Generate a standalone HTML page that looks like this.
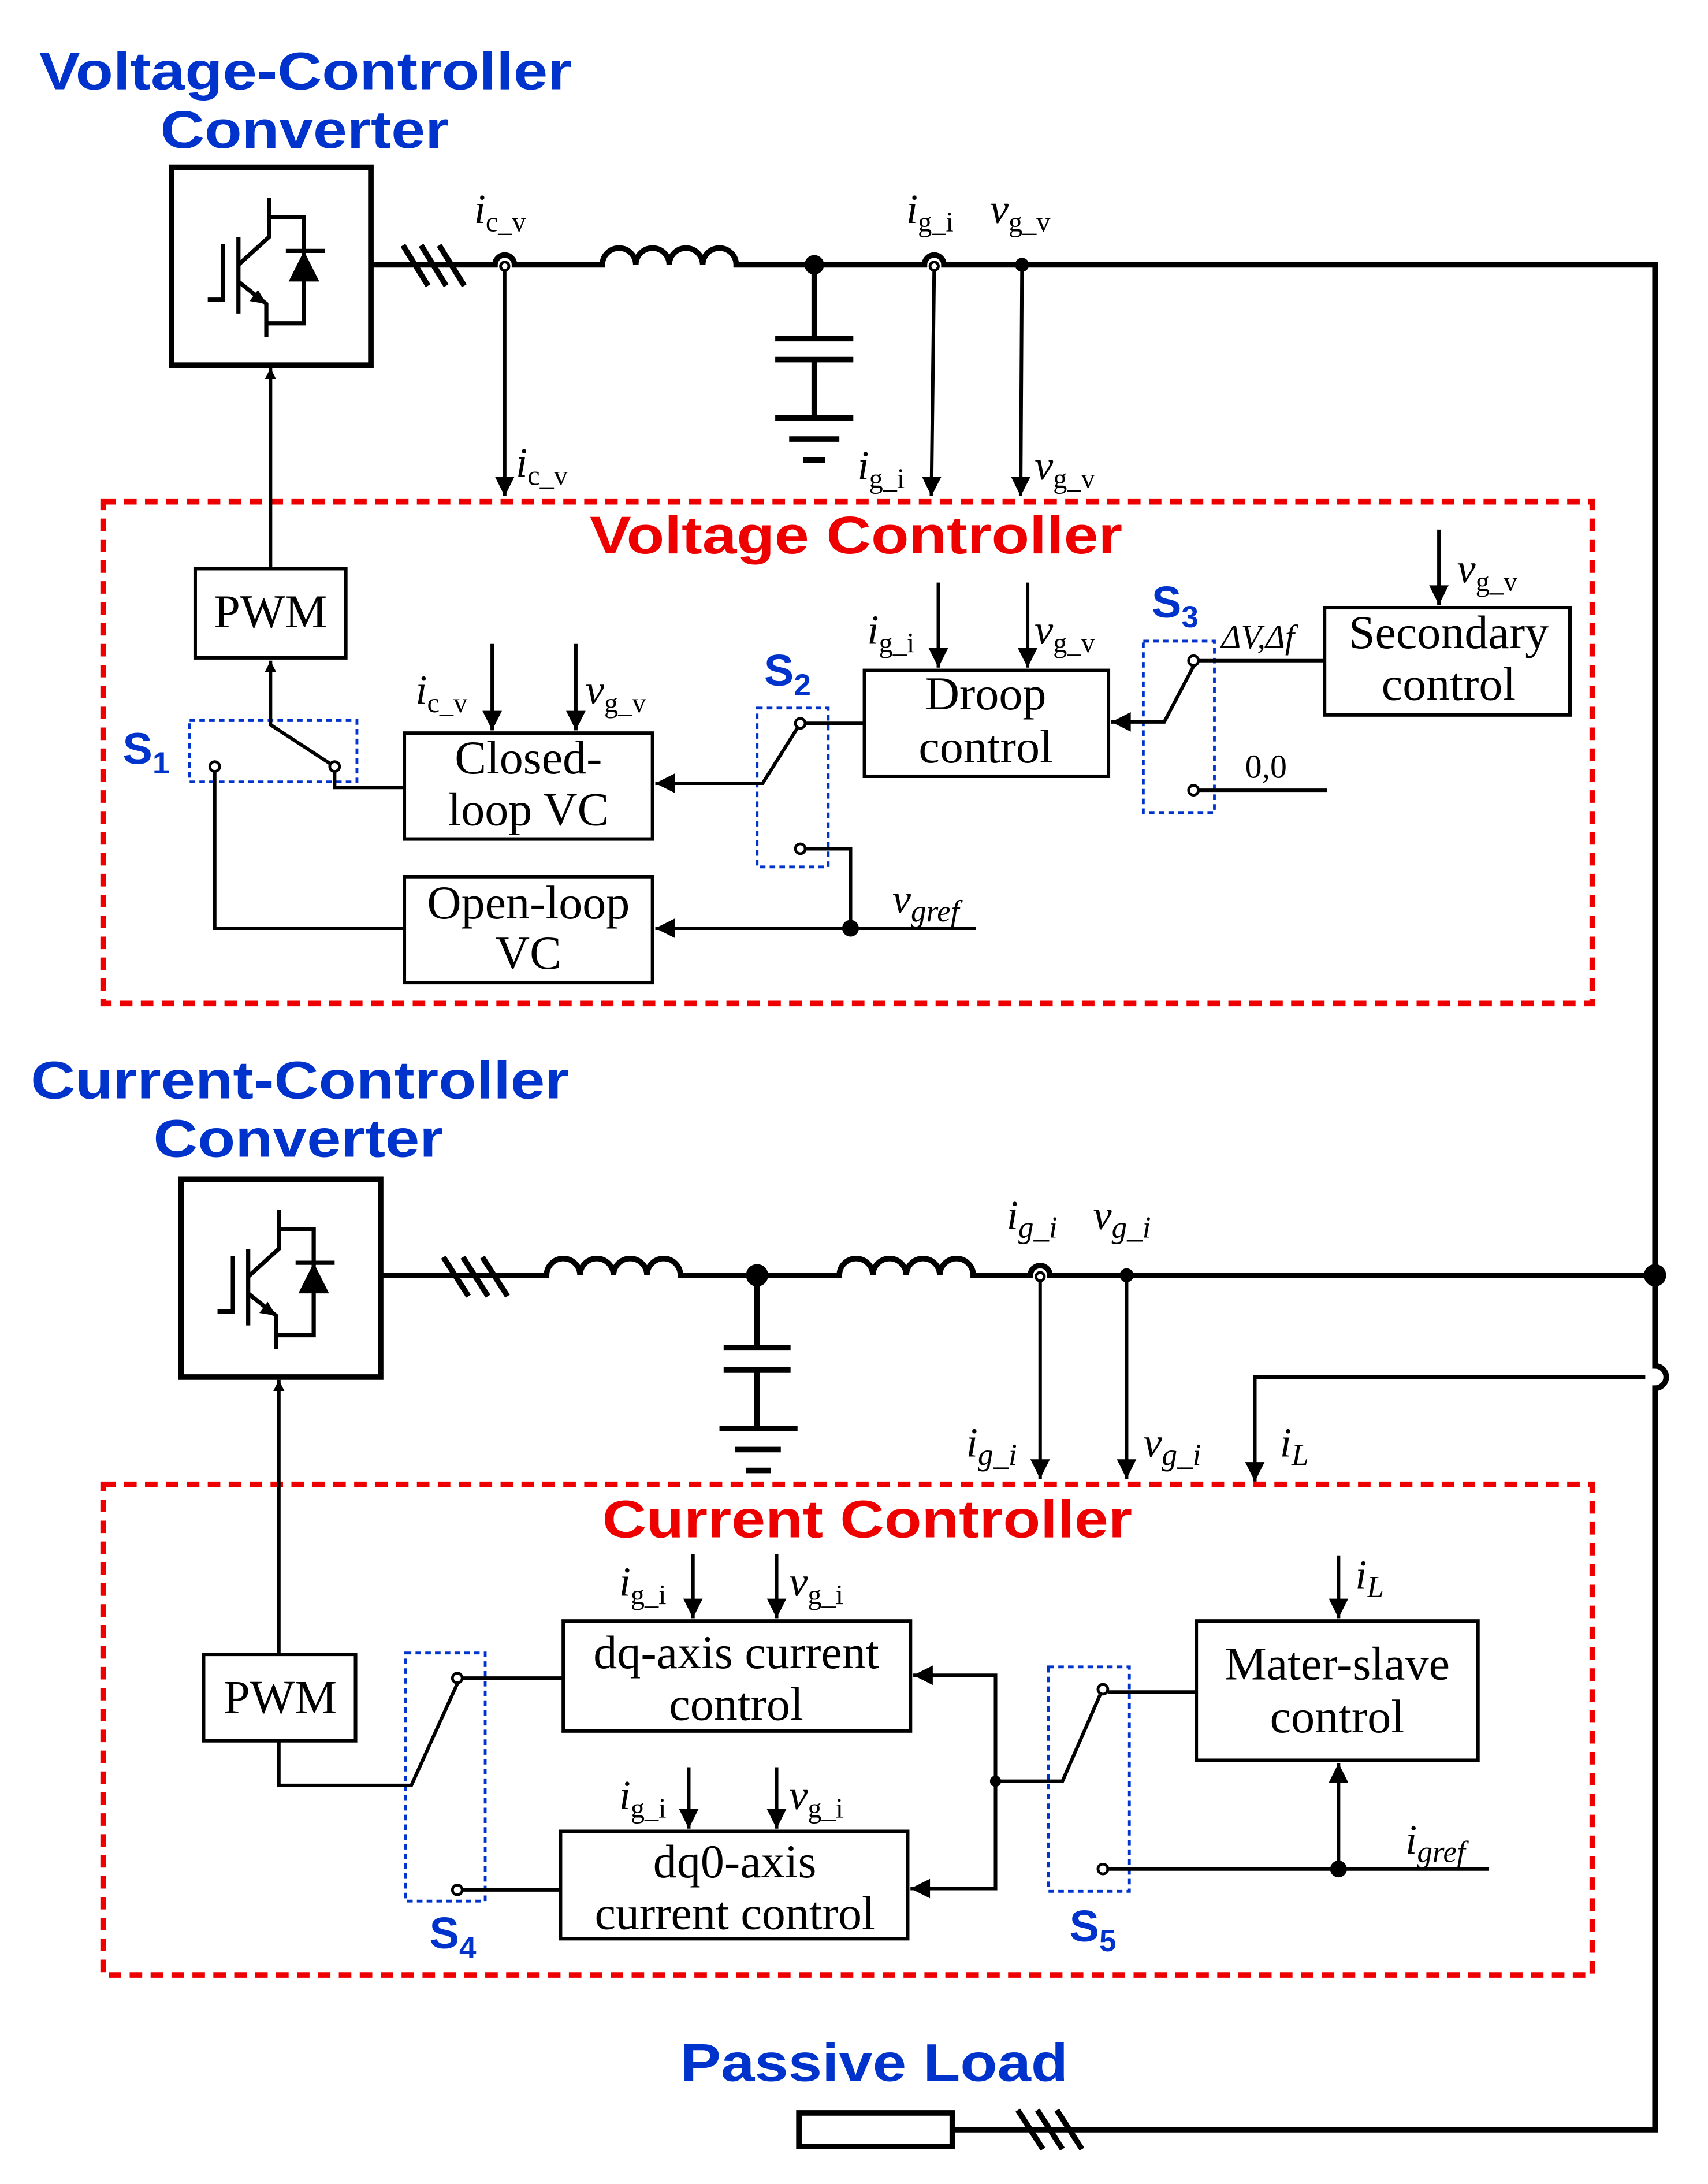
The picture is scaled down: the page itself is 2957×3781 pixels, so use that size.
<!DOCTYPE html>
<html><head><meta charset="utf-8"><style>
html,body{margin:0;padding:0;background:#fff}
svg{display:block}
.t{font-family:"Liberation Serif",serif;font-size:34px;fill:#000}
.l{font-family:"Liberation Serif",serif;font-size:30px;fill:#000;font-style:italic}
.s{font-size:20px;font-style:normal}
.si{font-size:22px;font-style:italic}
.h{font-family:"Liberation Sans",sans-serif;font-weight:bold;font-size:38px}
.sw{font-family:"Liberation Sans",sans-serif;font-weight:bold;font-size:32px;fill:#0033cc}
</style></head><body>
<svg width="2957" height="3781" viewBox="0 0 1225 1567" preserveAspectRatio="none" xmlns="http://www.w3.org/2000/svg">
<defs>
<marker id="a" viewBox="0 0 10 10" refX="10" refY="5" markerWidth="9" markerHeight="8" markerUnits="userSpaceOnUse" orient="auto"><path d="M0,0 L10,5 L0,10z" fill="#000"/></marker>
<marker id="b" viewBox="0 0 10 10" refX="10" refY="5" markerWidth="16" markerHeight="14" markerUnits="userSpaceOnUse" orient="auto"><path d="M0,0 L10,5 L0,10z" fill="#000"/></marker>
<g id="conv">
<rect x="0" y="0" width="143" height="142" fill="none" stroke="#000" stroke-width="4"/>
<g fill="none" stroke="#000" stroke-width="3">
<path d="M26,95 H37 V55"/>
<path d="M48,50 V105"/>
<path d="M70,22 V50 L48,70"/>
<path d="M48,82 L68,98 V122"/>
<path d="M70,36 H95 V112 H68"/>
<path d="M82,60 H110"/>
</g>
<path d="M95,60 L84,82 H106z" fill="#000"/>
<path d="M68,98 L56,96 L62,88z" fill="#000"/>
</g>
</defs>
<rect width="1225" height="1567" fill="#fff"/>

<text class="h" x="28" y="64" fill="#0033cc" textLength="382" lengthAdjust="spacingAndGlyphs">Voltage-Controller</text>
<text class="h" x="115" y="106" fill="#0033cc" textLength="207" lengthAdjust="spacingAndGlyphs">Converter</text>
<text class="h" x="22" y="788" fill="#0033cc" textLength="386" lengthAdjust="spacingAndGlyphs">Current-Controller</text>
<text class="h" x="110" y="830" fill="#0033cc" textLength="208" lengthAdjust="spacingAndGlyphs">Converter</text>
<text class="h" x="488" y="1493" fill="#0033cc" textLength="278" lengthAdjust="spacingAndGlyphs">Passive Load</text>
<text class="h" x="423" y="397" fill="#ee0000" textLength="382" lengthAdjust="spacingAndGlyphs">Voltage Controller</text>
<text class="h" x="432" y="1103" fill="#ee0000" textLength="380" lengthAdjust="spacingAndGlyphs">Current Controller</text>

<use href="#conv" x="123" y="120"/>
<use href="#conv" x="130" y="846"/>

<g fill="none" stroke="#000" stroke-width="4">
<path d="M266,190 H355 A7,7 0 0 1 369,190 H432 a12,12 0 0 1 24,0 a12,12 0 0 1 24,0 a12,12 0 0 1 24,0 a12,12 0 0 1 24,0 H663 A7,7 0 0 1 677,190 H1187 V980 A8,8 0 0 1 1187,996 V1528 H683"/>
<path d="M584,190 V243 M556,243 H612 M556,258 H612 M584,258 V300 M556,300 H612 M566,315 H602 M576,330 H592"/>
<path d="M289,176 L307,205 M302,176 L320,205 M315,176 L333,205"/>
<path d="M273,915 H392 a12,12 0 0 1 24,0 a12,12 0 0 1 24,0 a12,12 0 0 1 24,0 a12,12 0 0 1 24,0 H602 a12,12 0 0 1 24,0 a12,12 0 0 1 24,0 a12,12 0 0 1 24,0 a12,12 0 0 1 24,0 H739 A7,7 0 0 1 753,915 H1187"/>
<path d="M543,915 V967 M519,967 H567 M519,983 H567 M543,983 V1025 M516,1025 H572 M527,1040 H560 M535,1055 H553"/>
<path d="M318,902 L336,930 M332,902 L350,930 M346,902 L364,930"/>
<rect x="573" y="1516" width="110" height="24"/>
<path d="M730,1514 L748,1542 M744,1514 L762,1542 M758,1514 L776,1542"/>
</g>
<g fill="#000">
<circle cx="584" cy="190" r="7"/><circle cx="733" cy="190" r="5"/>
<circle cx="543" cy="915" r="8"/><circle cx="808" cy="915" r="5"/><circle cx="1187" cy="915" r="8"/>
</g>
<g fill="#fff" stroke="#000" stroke-width="2">
<circle cx="362" cy="191" r="3"/><circle cx="670" cy="191" r="3"/><circle cx="746" cy="916" r="3"/>
</g>

<g fill="none" stroke="#000" stroke-width="2.5">
<path d="M362,193 V356" marker-end="url(#b)"/>
<path d="M670,193 L668,356" marker-end="url(#b)"/>
<path d="M733,190 L732,356" marker-end="url(#b)"/>
<path d="M746,918 V1061" marker-end="url(#b)"/>
<path d="M808,915 V1061" marker-end="url(#b)"/>
<path d="M1180,988 H900 V1063" marker-end="url(#b)"/>
</g>

<rect x="74" y="360" width="1068" height="360" fill="none" stroke="#ee0000" stroke-width="4" stroke-dasharray="9,6"/>
<rect x="74" y="1065" width="1068" height="352" fill="none" stroke="#ee0000" stroke-width="4" stroke-dasharray="9,6"/>
<g fill="none" stroke="#0033cc" stroke-width="2" stroke-dasharray="4,3">
<rect x="136" y="517" width="120" height="44"/>
<rect x="543" y="508" width="51" height="114"/>
<rect x="820" y="460" width="51" height="123"/>
<rect x="291" y="1186" width="57" height="178"/>
<rect x="752" y="1196" width="58" height="161"/>
</g>

<g fill="#fff" stroke="#000" stroke-width="2.5">
<rect x="140" y="408" width="108" height="64"/>
<rect x="290" y="526" width="178" height="76"/>
<rect x="290" y="629" width="178" height="76"/>
<rect x="620" y="481" width="175" height="76"/>
<rect x="950" y="436" width="176" height="77"/>
<rect x="146" y="1187" width="109" height="62"/>
<rect x="404" y="1163" width="249" height="79"/>
<rect x="402" y="1314" width="249" height="77"/>
<rect x="858" y="1163" width="202" height="100"/>
</g>
<g class="t" text-anchor="middle">
<text x="194" y="450">PWM</text>
<text x="379" y="555">Closed-</text><text x="379" y="592">loop VC</text>
<text x="379" y="659">Open-loop</text><text x="379" y="695">VC</text>
<text x="707" y="509">Droop</text><text x="707" y="547">control</text>
<text x="1039" y="465">Secondary</text><text x="1039" y="502">control</text>
<text x="201" y="1229">PWM</text>
<text x="528" y="1197">dq-axis current</text><text x="528" y="1234">control</text>
<text x="527" y="1347">dq0-axis</text><text x="527" y="1384">current control</text>
<text x="959" y="1205">Mater-slave</text><text x="959" y="1243">control</text>
</g>

<g fill="none" stroke="#000" stroke-width="2.5">
<path d="M194,408 V264" marker-end="url(#a)"/>
<path d="M240,550 L194,520 V474" marker-end="url(#a)"/>
<path d="M240,553 V565 H290"/>
<path d="M154,553 V666 H290"/>
<path d="M574,519 L547,562 H470" marker-end="url(#b)"/>
<path d="M578,519 H620"/>
<path d="M578,609 H610 V666"/>
<path d="M700,666 H470" marker-end="url(#b)"/>
<path d="M353,462 V524" marker-end="url(#b)"/>
<path d="M413,462 V524" marker-end="url(#b)"/>
<path d="M673,418 V479" marker-end="url(#b)"/>
<path d="M737,418 V479" marker-end="url(#b)"/>
<path d="M1032,380 V434" marker-end="url(#b)"/>
<path d="M856,478 L835,518 H797" marker-end="url(#b)"/>
<path d="M860,474 H950"/>
<path d="M860,567 H952"/>
<path d="M200,1187 V990" marker-end="url(#a)"/>
<path d="M328,1208 L295,1281 H200 V1249"/>
<path d="M332,1204 H404"/>
<path d="M332,1356 H402"/>
<path d="M497,1115 V1161" marker-end="url(#b)"/>
<path d="M557,1115 V1161" marker-end="url(#b)"/>
<path d="M494,1268 V1312" marker-end="url(#b)"/>
<path d="M557,1268 V1312" marker-end="url(#b)"/>
<path d="M714,1278 V1202 H655" marker-end="url(#b)"/>
<path d="M714,1278 V1355 H653" marker-end="url(#b)"/>
<path d="M714,1278 H762 L789,1216"/>
<path d="M795,1214 H858"/>
<path d="M795,1341 H1068"/>
<path d="M960,1341 V1265" marker-end="url(#b)"/>
<path d="M960,1116 V1161" marker-end="url(#b)"/>
</g>
<g fill="#000"><circle cx="610" cy="666" r="6"/><circle cx="714" cy="1278" r="4"/><circle cx="960" cy="1341" r="6"/></g>
<g fill="#fff" stroke="#000" stroke-width="2">
<circle cx="154" cy="550" r="3.5"/><circle cx="240" cy="550" r="3.5"/>
<circle cx="574" cy="519" r="3.5"/><circle cx="574" cy="609" r="3.5"/>
<circle cx="856" cy="474" r="3.5"/><circle cx="856" cy="567" r="3.5"/>
<circle cx="328" cy="1204" r="3.5"/><circle cx="328" cy="1356" r="3.5"/>
<circle cx="791" cy="1212" r="3.5"/><circle cx="791" cy="1341" r="3.5"/>
</g>

<text class="sw" x="88" y="548">S<tspan font-size="22" dy="7">1</tspan></text>
<text class="sw" x="548" y="492">S<tspan font-size="22" dy="7">2</tspan></text>
<text class="sw" x="826" y="443">S<tspan font-size="22" dy="7">3</tspan></text>
<text class="sw" x="308" y="1398">S<tspan font-size="22" dy="7">4</tspan></text>
<text class="sw" x="767" y="1393">S<tspan font-size="22" dy="7">5</tspan></text>

<g class="l">
<text x="340" y="160">i<tspan class="s" dy="6">c_v</tspan></text>
<text x="650" y="160">i<tspan class="s" dy="6">g_i</tspan></text>
<text x="710" y="160">v<tspan class="s" dy="6">g_v</tspan></text>
<text x="370" y="342">i<tspan class="s" dy="6">c_v</tspan></text>
<text x="615" y="344">i<tspan class="s" dy="6">g_i</tspan></text>
<text x="742" y="344">v<tspan class="s" dy="6">g_v</tspan></text>
<text x="298" y="505">i<tspan class="s" dy="6">c_v</tspan></text>
<text x="420" y="505">v<tspan class="s" dy="6">g_v</tspan></text>
<text x="622" y="462">i<tspan class="s" dy="6">g_i</tspan></text>
<text x="742" y="462">v<tspan class="s" dy="6">g_v</tspan></text>
<text x="1045" y="418">v<tspan class="s" dy="6">g_v</tspan></text>
<text x="876" y="465" font-size="24">ΔV,Δf</text>
<text x="893" y="558" font-size="24" font-style="normal">0,0</text>
<text x="640" y="655">v<tspan class="si" dy="6">gref</tspan></text>
<text x="722" y="882">i<tspan class="si" dy="6">g_i</tspan></text>
<text x="784" y="882">v<tspan class="si" dy="6">g_i</tspan></text>
<text x="693" y="1045">i<tspan class="si" dy="6">g_i</tspan></text>
<text x="820" y="1045">v<tspan class="si" dy="6">g_i</tspan></text>
<text x="918" y="1045">i<tspan class="si" dy="6">L</tspan></text>
<text x="444" y="1145">i<tspan class="s" dy="6">g_i</tspan></text>
<text x="566" y="1145">v<tspan class="s" dy="6">g_i</tspan></text>
<text x="444" y="1298">i<tspan class="s" dy="6">g_i</tspan></text>
<text x="566" y="1298">v<tspan class="s" dy="6">g_i</tspan></text>
<text x="972" y="1140">i<tspan class="si" dy="6">L</tspan></text>
<text x="1008" y="1330">i<tspan class="si" dy="6">gref</tspan></text>
</g>
</svg>
</body></html>
